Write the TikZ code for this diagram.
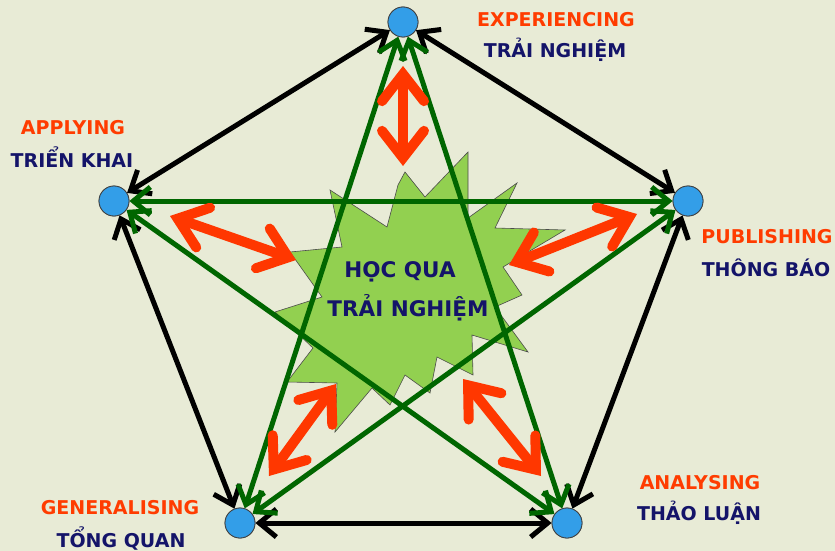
\documentclass[tikz,border=0pt]{standalone}
\usepackage{fontspec}
\setmainfont{DejaVu Sans}
\usetikzlibrary{arrows.meta}
\definecolor{bgc}{RGB}{232,235,214}
\definecolor{lblred}{RGB}{255,60,0}
\definecolor{navy}{RGB}{20,20,105}
\definecolor{burst}{RGB}{146,208,80}
\definecolor{dkgreen}{RGB}{0,102,0}
\definecolor{redarr}{RGB}{255,55,0}
\definecolor{dotblue}{RGB}{51,158,232}
\begin{document}
\begin{tikzpicture}[x=1pt,y=-1pt,
  dot/.style={circle,draw=black!75,line width=0.8pt,fill=dotblue,minimum size=30pt,inner sep=0pt},
  blk/.style={draw=black,line width=5pt,arrows={Straight Barb[length=17pt,width=28pt]-Straight Barb[length=17pt,width=28pt]}},
  grn/.style={draw=dkgreen,line width=5pt,arrows={Straight Barb[length=17pt,width=28pt]-Straight Barb[length=17pt,width=28pt]}},
  redar/.style={draw=redarr,line width=10pt,arrows={Straight Barb[length=27pt,width=42pt,line cap=round,line join=miter]-Straight Barb[length=27pt,width=42pt,line cap=round,line join=miter]}},
  en/.style={text=lblred,font=\bfseries\fontsize{19}{21}\selectfont,inner sep=0pt},
  vn/.style={text=navy,font=\bfseries\fontsize{19}{21}\selectfont,inner sep=0pt},
  ctr/.style={text=navy,font=\bfseries\fontsize{21.5}{24}\selectfont,inner sep=0pt}]
\useasboundingbox (0,0) rectangle (835,551);
\fill[bgc] (0,0) rectangle (835,551);
% burst
\draw[fill=burst,draw=black!70,line width=0.6pt]
 (405,172) -- (425,197) -- (468,152) -- (468,218) -- (517,183) -- (495,228)
 -- (565,230) -- (503,267) -- (522,295) -- (495,307) -- (528,352) -- (472,335)
 -- (473,375) -- (437,357) -- (430,393) -- (405,375) -- (390,405) -- (372,388)
 -- (335,432) -- (337,383) -- (287,382) -- (313,348) -- (275,312) -- (322,297)
 -- (290,252) -- (342,247) -- (330,190) -- (387,227) -- (398,185) -- cycle;
% circles
\node[dot] (T) at (403,22) {};
\node[dot] (L) at (114,201) {};
\node[dot] (R) at (688,201) {};
\node[dot] (BL) at (240,523) {};
\node[dot] (BR) at (567,523) {};
% black pentagon arrows
\draw[blk] (T) -- (R);
\draw[blk] (R) -- (BR);
\draw[blk] (BR) -- (BL);
\draw[blk] (BL) -- (L);
\draw[blk] (L) -- (T);
% green star arrows
\draw[grn] (T) -- (BL);
\draw[grn] (T) -- (BR);
\draw[grn] (L) -- (R);
\draw[grn] (L) -- (BR);
\draw[grn] (R) -- (BL);
% red arrows
\coordinate (t1) at (403,66); \coordinate (t2) at (403,166);
\coordinate (l1) at (170,216); \coordinate (l2) at (296,260);
\coordinate (r1) at (637,214); \coordinate (r2) at (509,265);
\coordinate (bl1) at (336,384); \coordinate (bl2) at (269,476);
\coordinate (br1) at (463,379); \coordinate (br2) at (541,476);
\draw[redar] (t1) -- (t2);
\draw[redar] (l1) -- (l2);
\draw[redar] (r1) -- (r2);
\draw[redar] (bl1) -- (bl2);
\draw[redar] (br1) -- (br2);
\foreach \n in {T,L,R,BL,BR} \node[dot] at (\n) {};
% labels
\node[en] (eT) at (556,20) {EXPERIENCING};
\node[vn] (vT) at (555,50) {TRẢI NGHIỆM};
\node[en] (eL) at (73,128) {APPLYING};
\node[vn] (vL) at (72,157) {TRIỂN KHAI};
\node[en] (eR) at (767,237) {PUBLISHING};
\node[vn] (vR) at (766,268) {THÔNG BÁO};
\node[en] (eBL) at (120,508) {GENERALISING};
\node[vn] (vBL) at (121,538) {TỔNG QUAN};
\node[en] (eBR) at (700,483) {ANALYSING};
\node[vn] (vBR) at (699,513) {THẢO LUẬN};
\node[ctr] (c1) at (400,272) {HỌC QUA};
\node[ctr] (c2) at (408,308) {TRẢI NGHIỆM};
\end{tikzpicture}
\end{document}
